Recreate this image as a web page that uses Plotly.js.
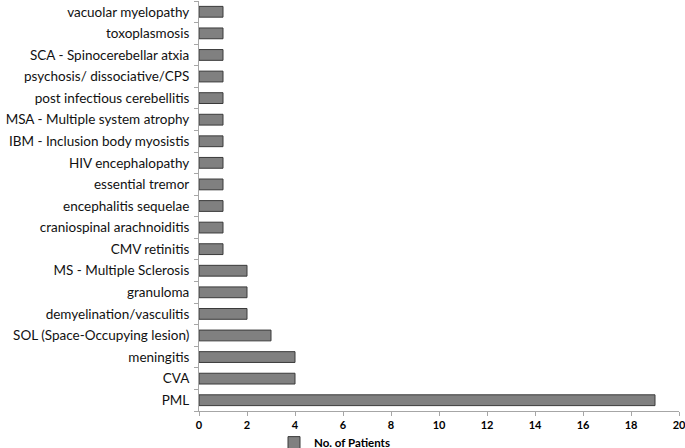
<!DOCTYPE html>
<html>
<head>
<meta charset="utf-8">
<script src="https://cdn.plot.ly/plotly-3.0.1.min.js"></script>
<style>
  html, body { margin: 0; padding: 0; background: #fff; }
  #chart { width: 685px; height: 448px; }
</style>
</head>
<body>
<div id="chart"></div>
<script>
// bottom to top, as drawn
const diagnoses = [
  'PML',
  'CVA',
  'meningitis',
  'SOL (Space-Occupying lesion)',
  'demyelination/vasculitis',
  'granuloma',
  'MS - Multiple Sclerosis',
  'CMV retinitis',
  'craniospinal arachnoiditis',
  'encephalitis sequelae',
  'essential tremor',
  'HIV encephalopathy',
  'IBM - Inclusion body myosistis',
  'MSA - Multiple system atrophy',
  'post infectious cerebellitis',
  'psychosis/ dissociative/CPS',
  'SCA - Spinocerebellar atxia',
  'toxoplasmosis',
  'vacuolar myelopathy'
];
const patientCounts = [19, 4, 4, 3, 2, 2, 2, 1, 1, 1, 1, 1, 1, 1, 1, 1, 1, 1, 1];
const xTickValues = [0, 2, 4, 6, 8, 10, 12, 14, 16, 18, 20];

const trace = {
  type: 'bar',
  orientation: 'h',
  name: 'No. of Patients',
  x: patientCounts,
  y: diagnoses,
  width: 0.5,
  marker: {
    color: '#808080',
    line: { color: '#3a3a3a', width: 1 }
  }
};

const layout = {
  width: 685,
  height: 448,
  paper_bgcolor: '#fff',
  plot_bgcolor: '#fff',
  font: { family: 'Lato, "Open Sans", sans-serif', color: '#000', size: 13 },
  margin: { l: 199, r: 6, t: 1, b: 37 },
  bargap: 0.5,
  xaxis: {
    range: [0, 20],
    tickvals: xTickValues,
    ticktext: xTickValues.map(String),
    showgrid: false,
    zeroline: false,
    showline: true,
    linecolor: '#a6a6a6',
    linewidth: 1,
    ticks: 'outside',
    ticklen: 4,
    tickcolor: '#a6a6a6',
    ticklabeloverflow: 'allow',
    automargin: false,
    tickfont: { size: 11, family: 'Lato, sans-serif', weight: 'bold', color: '#000' }
  },
  yaxis: {
    type: 'category',
    categoryorder: 'array',
    categoryarray: diagnoses,
    showgrid: false,
    zeroline: false,
    showline: true,
    linecolor: '#a6a6a6',
    linewidth: 1,
    ticks: 'outside',
    tickson: 'boundaries',
    ticklen: 4,
    tickcolor: '#a6a6a6',
    ticklabelstandoff: 6,
    automargin: false,
    tickfont: { size: 13.5, color: '#111' }
  },
  showlegend: true,
  legend: {
    orientation: 'h',
    x: 0.4,
    xanchor: 'left',
    xref: 'container',
    y: 0.012,
    yref: 'container',
    yanchor: 'middle',
    font: { size: 11.5, weight: 'bold', color: '#000' },
    itemwidth: 30,
    bgcolor: 'rgba(0,0,0,0)'
  }
};

Plotly.newPlot('chart', [trace], layout, { displayModeBar: false, staticPlot: true });
</script>
</body>
</html>
